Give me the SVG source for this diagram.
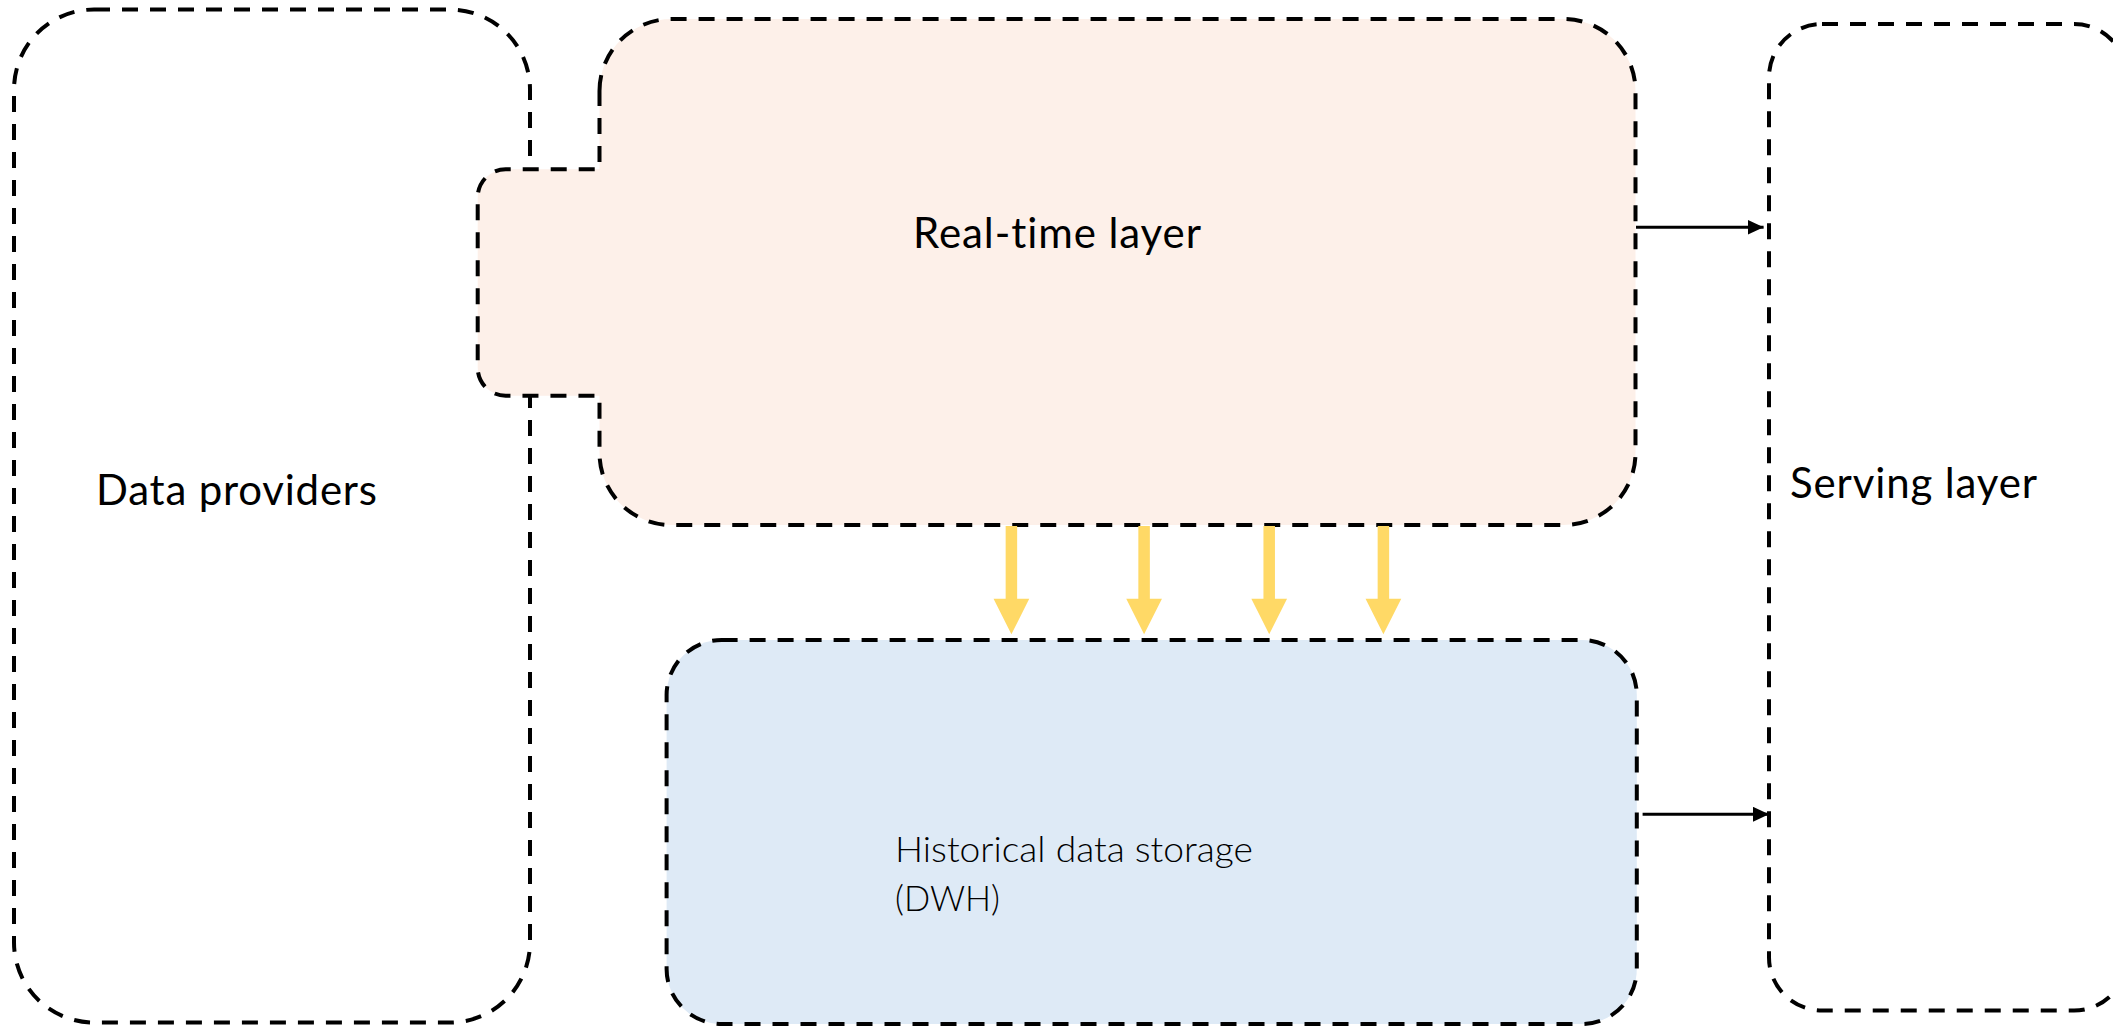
<svg xmlns="http://www.w3.org/2000/svg" width="2113" height="1026" viewBox="0 0 2113 1026">
  <style>
    .box { stroke: #000; stroke-width: 4; stroke-dasharray: 16 12; }
    .label { font-family: Lato, "Liberation Sans", sans-serif; font-size: 42px; fill: #000; font-variant-ligatures: none; }
    .label-light { font-family: Lato, "Liberation Sans", sans-serif; font-size: 35px; font-weight: 300; fill: #000; font-variant-ligatures: none; }
    .flow { stroke: #000; stroke-width: 3; fill: none; }
    .drop { fill: #FFD966; }
  </style>
  <defs>
    <marker id="arrowhead" markerUnits="userSpaceOnUse" markerWidth="16" markerHeight="15" refX="16" refY="7.5" orient="auto">
      <path d="M0,0 L16,7.5 L0,15 Z" fill="#000"/>
    </marker>
    <!-- block arrow pointing down, origin at top centre of the shaft -->
    <path id="dropArrow" d="M-5.75,0 H5.75 V72.7 H17.85 L0,108.3 L-17.85,72.7 H-5.75 Z"/>
  </defs>

  <rect width="2113" height="1026" fill="#fff"/>

  <g id="data-providers">
    <rect class="box" x="14" y="9.5" width="516" height="1013" rx="80" ry="80" fill="#fff"/>
    <text class="label" x="96" y="505" textLength="281">Data providers</text>
  </g>

  <g id="real-time-layer">
    <path class="box" fill="#FDF0E9" d="M599.5,91 A72,72 0 0 1 671.5,19 H1563.5 A72,72 0 0 1 1635.5,91 V453 A72,72 0 0 1 1563.5,525 H671.5 A72,72 0 0 1 599.5,453 V395.7 H505.7 A28,28 0 0 1 477.7,367.7 V197.3 A28,28 0 0 1 505.7,169.3 H599.5 Z"/>
    <text class="label" x="913" y="248.3" textLength="288">Real-time layer</text>
  </g>

  <g id="historical-storage">
    <rect class="box" x="666.6" y="640" width="970.2" height="384" rx="55" ry="55" fill="#DEEAF6"/>
    <text class="label-light" x="895" y="861.7" textLength="358" lengthAdjust="spacingAndGlyphs">Historical data storage</text>
    <text class="label-light" x="895" y="910.7" textLength="105" lengthAdjust="spacingAndGlyphs">(DWH)</text>
  </g>

  <g id="serving-layer">
    <rect class="box" x="1769" y="24" width="358" height="986.5" rx="53" ry="53" fill="#fff"/>
    <text class="label" x="1790" y="498.3" textLength="247">Serving layer</text>
  </g>

  <g id="connectors">
    <line class="flow" x1="1636" y1="227.3" x2="1763.6" y2="227.3" marker-end="url(#arrowhead)"/>
    <line class="flow" x1="1642.6" y1="814.3" x2="1769" y2="814.3" marker-end="url(#arrowhead)"/>
    <use href="#dropArrow" class="drop" transform="translate(1011.4,526)"/>
    <use href="#dropArrow" class="drop" transform="translate(1144.1,526)"/>
    <use href="#dropArrow" class="drop" transform="translate(1269.2,526)"/>
    <use href="#dropArrow" class="drop" transform="translate(1383.4,526)"/>
  </g>
</svg>
